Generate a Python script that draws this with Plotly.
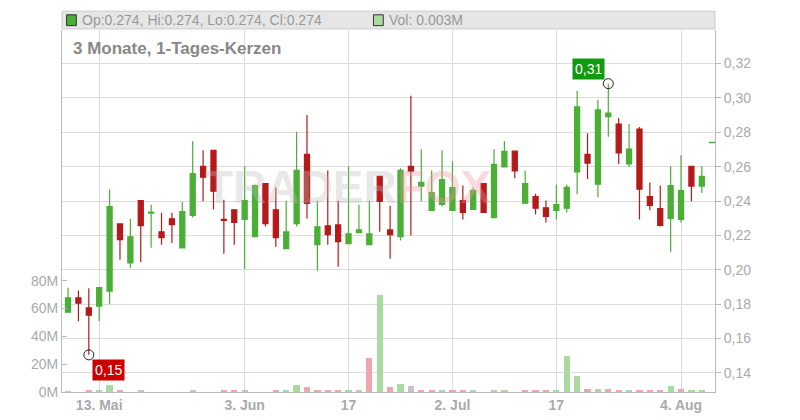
import plotly.graph_objects as go

# trading-day index 0..62
opens = [0.1753, 0.1837, 0.1778, 0.1788, 0.1876, 0.2267, 0.2040, 0.2402, 0.2330, 0.2220,
         0.2297, 0.2128, 0.2316, 0.2602, 0.2695, 0.2293, 0.2349, 0.2293, 0.2193, 0.2502,
         0.2349, 0.2123, 0.2269, 0.2672, 0.2146, 0.2256, 0.2261, 0.2152, 0.2216, 0.2146,
         0.2543, 0.2232, 0.2193, 0.2602, 0.2486, 0.2345, 0.2381, 0.2345, 0.2402, 0.2351,
         0.2502, 0.2304, 0.2598, 0.2690, 0.2387, 0.2426, 0.2361, 0.2346, 0.2358, 0.2569,
         0.2672, 0.2498, 0.2891, 0.2848, 0.2616, 0.2819, 0.2426, 0.2356, 0.2299, 0.2293,
         0.2602, 0.2487, 0.2740]
highs = [0.1896, 0.1880, 0.1892, 0.1896, 0.2467, 0.2267, 0.2297, 0.2402, 0.2379, 0.2332,
         0.2332, 0.2394, 0.2748, 0.2695, 0.2695, 0.2408, 0.2349, 0.2602, 0.2496, 0.2502,
         0.2478, 0.2402, 0.2803, 0.2901, 0.2402, 0.2578, 0.2402, 0.2602, 0.2379, 0.2402,
         0.2543, 0.2373, 0.2590, 0.3012, 0.2701, 0.2578, 0.2695, 0.2631, 0.2490, 0.2478,
         0.2502, 0.2701, 0.2748, 0.2690, 0.2578, 0.2442, 0.2403, 0.2496, 0.2496, 0.3042,
         0.2795, 0.2989, 0.3083, 0.2883, 0.2848, 0.2831, 0.2508, 0.2490, 0.2602, 0.2666,
         0.2602, 0.2602, 0.2740]
lows = [0.1753, 0.1700, 0.1505, 0.1700, 0.1800, 0.2058, 0.2011, 0.2046, 0.2128, 0.2146,
        0.2156, 0.2128, 0.2304, 0.2398, 0.2351, 0.2093, 0.2146, 0.2005, 0.2193, 0.2252,
        0.2134, 0.2123, 0.2252, 0.2298, 0.1994, 0.2146, 0.2017, 0.2152, 0.2216, 0.2146,
        0.2222, 0.2064, 0.2170, 0.2199, 0.2398, 0.2345, 0.2369, 0.2345, 0.2293, 0.2351,
        0.2334, 0.2304, 0.2598, 0.2533, 0.2387, 0.2322, 0.2275, 0.2293, 0.2334, 0.2440,
        0.2528, 0.2422, 0.2774, 0.2616, 0.2598, 0.2293, 0.2346, 0.2252, 0.2105, 0.2275,
        0.2399, 0.2446, 0.2740]
closes = [0.1837, 0.1806, 0.1736, 0.1896, 0.2367, 0.2175, 0.2191, 0.2257, 0.2335, 0.2187,
          0.2263, 0.2338, 0.2560, 0.2539, 0.2457, 0.2287, 0.2275, 0.2402, 0.2490, 0.2269,
          0.2187, 0.2220, 0.2578, 0.2386, 0.2250, 0.2205, 0.2164, 0.2209, 0.2232, 0.2209,
          0.2398, 0.2205, 0.2578, 0.2574, 0.2508, 0.2449, 0.2525, 0.2478, 0.2334, 0.2461,
          0.2334, 0.2613, 0.2689, 0.2575, 0.2502, 0.2358, 0.2311, 0.2379, 0.2479, 0.2948,
          0.2621, 0.2930, 0.2912, 0.2680, 0.2702, 0.2469, 0.2375, 0.2258, 0.2490, 0.2461,
          0.2487, 0.2544, 0.2741]
volumes = [0.3, 0.0, 1.0, 1.0, 5.3, 1.0, 0.0, 1.0, 0.0, 0.0,
           0.0, 0.0, 1.0, 0.0, 0.0, 1.0, 1.0, 1.0, 0.0, 0.0,
           1.0, 1.5, 5.3, 3.8, 1.7, 1.0, 1.0, 1.0, 1.0, 24.7,
           70.0, 3.8, 5.5, 4.5, 1.7, 1.0, 1.7, 1.0, 1.0, 1.0,
           0.0, 1.0, 1.0, 0.0, 1.0, 1.0, 1.0, 1.0, 25.7, 11.8,
           2.4, 2.4, 2.4, 1.0, 1.0, 1.7, 1.0, 1.0, 4.5, 2.4,
           1.0, 1.0, 0.0]
vol_dir = ["g", "r", "r", "g", "g", "r", "g", "g", "g", "r",
           "r", "g", "g", "r", "r", "r", "r", "g", "g", "r",
           "r", "g", "g", "r", "r", "r", "r", "g", "g", "r",
           "g", "r", "g", "n", "r", "r", "g", "r", "r", "g",
           "r", "g", "g", "r", "r", "r", "r", "g", "g", "g",
           "r", "g", "r", "r", "g", "r", "r", "r", "g", "r",
           "g", "g", "g"]
tick_idx = [3, 17, 27, 37, 47, 59]
tick_text = ["13. Mai", "3. Jun", "17", "2. Jul", "17", "4. Aug"]
vol_ticks = [0, 20, 40, 60, 80]
vol_text = ["0M", "20M", "40M", "60M", "80M"]

x = list(range(len(closes)))
vcol = {"g": "#a9dba0", "r": "#f0a5ad", "n": "#c4c4c4"}
GRAY = "#999999"

fig = go.Figure()
fig.add_trace(go.Bar(x=x, y=volumes, marker_color=[vcol[d] for d in vol_dir],
                     marker_line_width=0, width=0.6, yaxis="y"))
fig.add_trace(go.Candlestick(
    x=x, open=opens, high=highs, low=lows, close=closes, yaxis="y2",
    increasing=dict(line=dict(color="#4aaf35", width=1.2), fillcolor="#4aaf35"),
    decreasing=dict(line=dict(color="#b51a1a", width=1.2), fillcolor="#b51a1a"),
    whiskerwidth=0,
))

# high / low markers
i_hi = max(x, key=lambda i: highs[i])
i_lo = min(x, key=lambda i: lows[i])
fig.add_trace(go.Scatter(x=[i_hi, i_lo], y=[highs[i_hi], lows[i_lo]], mode="markers",
                         yaxis="y2",
                         marker=dict(size=10, color="rgba(0,0,0,0)",
                                     line=dict(color="#222", width=1))))

# page body adds an 8px offset, so margins are shifted to compensate
fig.update_layout(
    width=800, height=420, showlegend=False, separators=",.",
    paper_bgcolor="white", plot_bgcolor="white",
    margin=dict(l=54, r=93, t=22, b=36, autoexpand=False),
    font=dict(family="Liberation Sans, Arial", color=GRAY, size=14),
    bargap=0,
    xaxis=dict(range=[-0.58, 62.27], tickvals=tick_idx, ticktext=tick_text,
               showgrid=True, gridcolor="#dcdcdc", rangeslider=dict(visible=False),
               ticks="", tickfont=dict(size=14, color="#aaaaaa", weight="bold"),
               showline=True, linecolor="#bbbbbb", zeroline=False),
    yaxis=dict(range=[0, 260], tickvals=vol_ticks, ticktext=vol_text, side="left",
               showgrid=False, zeroline=False, ticks="inside", ticklen=5,
               tickcolor="#bbbbbb", showline=True, linecolor="#bbbbbb",
               tickfont=dict(size=14, color="#aaaaaa")),
    yaxis2=dict(range=[0.1289, 0.3395], overlaying="y", side="right",
                dtick=0.02, tick0=0.14, tickformat=".2f", showgrid=True,
                gridcolor="#dcdcdc", zeroline=False, ticks="outside", ticklen=5,
                tickcolor="#bbbbbb", showline=True, linecolor="#bbbbbb",
                tickfont=dict(size=14, color="#aaaaaa")),
)

# header bar
fig.add_shape(type="rect", xref="paper", yref="paper", x0=0, x1=1, y0=1.003, y1=1.052,
              fillcolor="#e6e6e6", line=dict(color="#cccccc", width=1))
fig.add_shape(type="rect", xref="paper", yref="paper", x0=0.007, x1=0.022, y0=1.012, y1=1.042,
              fillcolor="#4aaf35", line=dict(color="#333", width=1))
fig.add_annotation(xref="paper", yref="paper", x=0.027, y=1.027, xanchor="left",
                   yanchor="middle", showarrow=False,
                   text="Op:0.274, Hi:0.274, Lo:0.274, Cl:0.274",
                   font=dict(size=14, color=GRAY))
fig.add_shape(type="rect", xref="paper", yref="paper", x0=0.477, x1=0.492, y0=1.012, y1=1.042,
              fillcolor="#a9dba0", line=dict(color="#333", width=1))
fig.add_annotation(xref="paper", yref="paper", x=0.497, y=1.027, xanchor="left",
                   yanchor="middle", showarrow=False, text="Vol: 0.003M",
                   font=dict(size=14, color=GRAY))
fig.add_annotation(xref="paper", yref="paper", x=0.014, y=0.95, xanchor="left",
                   yanchor="middle", showarrow=False, text="<b>3 Monate, 1-Tages-Kerzen</b>",
                   font=dict(size=17, color="#888888"))

# watermark
fig.add_annotation(x=27, y=0.248, yref="y2", showarrow=False,
                   text="<b><span style='color:rgba(190,190,190,0.35)'>TRADER</span>"
                        "<span style='color:rgba(240,150,160,0.35)'>FOX</span></b>",
                   font=dict(size=46))

# value labels
fig.add_annotation(x=i_hi, y=highs[i_hi], yref="y2", showarrow=False,
                   xshift=-20, yshift=15, text="0,31", bgcolor="#119911",
                   font=dict(size=14, color="white"), borderpad=2)
fig.add_annotation(x=i_lo, y=lows[i_lo], yref="y2", showarrow=False,
                   xshift=20, yshift=-15, text="0,15", bgcolor="#cc0000",
                   font=dict(size=14, color="white"), borderpad=2)

fig.write_html("out.html")
